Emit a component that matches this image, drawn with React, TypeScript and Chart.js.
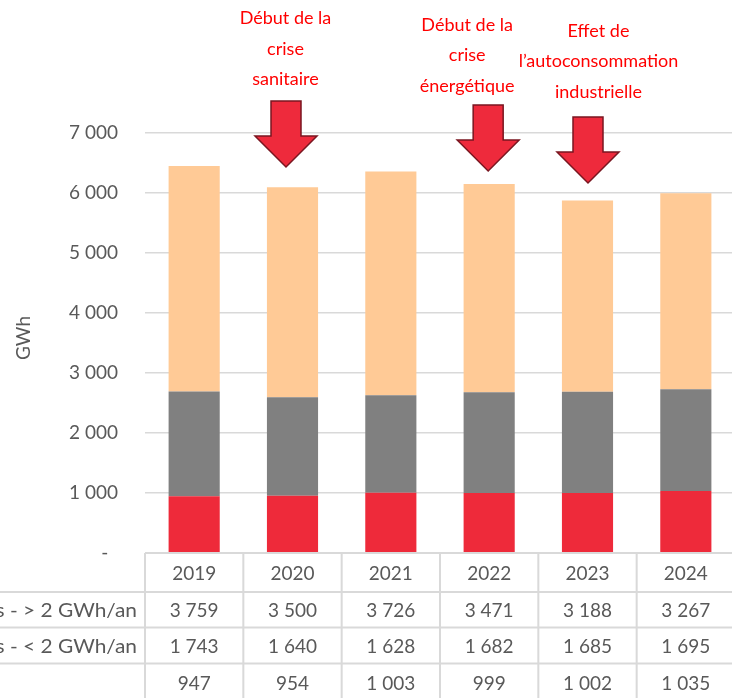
import React, { useEffect, useRef } from "react";
import { Chart, registerables } from "chart.js";

Chart.register(...registerables);

const categories = ["2019", "2020", "2021", "2022", "2023", "2024"];
const above2GWh = [3759, 3500, 3726, 3471, 3188, 3267];
const below2GWh = [1743, 1640, 1628, 1682, 1685, 1695];
const thirdSeries = [947, 954, 1003, 999, 1002, 1035];
const rowLabels = ["Industriels - > 2 GWh/an", "Industriels - < 2 GWh/an", ""];
const yMax = 7000;
const yStep = 1000;

const notes = [
  { index: 1, textDx: -7, arrowDx: -6.5, lines: ["Début de la", "crise", "sanitaire"], firstBaseline: 24, arrowTop: 101 },
  { index: 3, textDx: -22, arrowDx: -1, lines: ["Début de la", "crise", "énergétique"], firstBaseline: 30.5, arrowTop: 105 },
  { index: 4, textDx: 11, arrowDx: 0.5, lines: ["Effet de", "l\u2019autoconsommation", "industrielle"], firstBaseline: 36.5, arrowTop: 117 },
];

const FONT = "Lato, 'Open Sans', sans-serif";
const GRID = "#d9d9d9";
const TEXT = "#595959";

function fmt(n: number): string {
  if (n === 0) return "-  ";
  if (n >= 1000) {
    return `${Math.floor(n / 1000)} ${String(n % 1000).padStart(3, "0")}`;
  }
  return String(n);
}

const overlayPlugin = {
  id: "overlay",
  afterDraw(chart: any) {
    const ctx = chart.ctx;
    const xs = chart.scales.x;
    const area = chart.chartArea;
    const colW = (area.right - area.left) / categories.length;
    ctx.save();

    // Y title
    ctx.save();
    ctx.translate(24, 338);
    ctx.rotate(-Math.PI / 2);
    ctx.font = `19px ${FONT}`;
    ctx.fillStyle = TEXT;
    ctx.textAlign = "center";
    ctx.textBaseline = "middle";
    ctx.fillText("GWh", 0, 0);
    ctx.restore();

    // Table
    const rowLines = [area.bottom, 592, 627.5, 663.5, 702];
    ctx.strokeStyle = GRID;
    ctx.lineWidth = 2;
    ctx.beginPath();
    ctx.moveTo(area.left, area.bottom);
    ctx.lineTo(chart.width, area.bottom);
    for (let r = 1; r < 4; r++) {
      ctx.moveTo(0, rowLines[r]);
      ctx.lineTo(chart.width, rowLines[r]);
    }
    for (let i = 0; i <= categories.length; i++) {
      const x = area.left + i * colW;
      ctx.moveTo(x, area.bottom);
      ctx.lineTo(x, chart.height);
    }
    ctx.stroke();

    ctx.font = `19px ${FONT}`;
    ctx.fillStyle = TEXT;
    ctx.textBaseline = "middle";
    ctx.textAlign = "center";
    const rows = [above2GWh, below2GWh, thirdSeries];
    categories.forEach((c, i) => {
      const cx = xs.getPixelForValue(i);
      ctx.fillText(c, cx, (rowLines[0] + rowLines[1]) / 2 + 1);
      rows.forEach((vals, r) => {
        ctx.fillText(fmt(vals[i]), cx, (rowLines[r + 1] + rowLines[r + 2]) / 2 + 1);
      });
    });
    ctx.textAlign = "right";
    rowLabels.forEach((lab, r) => {
      ctx.save();
      ctx.translate(137, (rowLines[r + 1] + rowLines[r + 2]) / 2 + 1);
      ctx.scale(1.1, 1);
      ctx.fillText(lab, 0, 0);
      ctx.restore();
    });

    // Notes
    notes.forEach((n) => {
      const cx = xs.getPixelForValue(n.index);
      ctx.font = `18px ${FONT}`;
      ctx.fillStyle = "#ff0000";
      ctx.textAlign = "center";
      ctx.textBaseline = "alphabetic";
      n.lines.forEach((l, k) => {
        ctx.fillText(l, cx + n.textDx, n.firstBaseline + k * 30.5);
      });
      const ax = cx + n.arrowDx;
      const top = n.arrowTop;
      const headY = top + 35;
      const tip = top + 66;
      ctx.beginPath();
      ctx.moveTo(ax - 15, top);
      ctx.lineTo(ax + 15, top);
      ctx.lineTo(ax + 15, headY);
      ctx.lineTo(ax + 31, headY);
      ctx.lineTo(ax, tip);
      ctx.lineTo(ax - 31, headY);
      ctx.lineTo(ax - 15, headY);
      ctx.closePath();
      ctx.fillStyle = "#ee2a3c";
      ctx.fill();
      ctx.strokeStyle = "#7a1620";
      ctx.lineWidth = 1.5;
      ctx.stroke();
    });

    ctx.restore();
  },
};

export default function App() {
  const ref = useRef<HTMLCanvasElement>(null);
  useEffect(() => {
    if (!ref.current) return;
    const chart = new Chart(ref.current, {
      type: "bar",
      data: {
        labels: categories,
        datasets: [
          { label: "third", data: thirdSeries, backgroundColor: "#ee2a3a", stack: "s" },
          { label: "< 2 GWh/an", data: below2GWh, backgroundColor: "#808080", stack: "s" },
          { label: "> 2 GWh/an", data: above2GWh, backgroundColor: "#ffca96", stack: "s" },
        ],
      },
      options: {
        responsive: false,
        animation: false,
        devicePixelRatio: 1,
        layout: { padding: { left: 0, right: 5, top: 133, bottom: 145 } },
        datasets: { bar: { categoryPercentage: 1, barPercentage: 0.52 } },
        plugins: { legend: { display: false }, tooltip: { enabled: false } },
        scales: {
          x: { display: false, stacked: true },
          y: {
            stacked: true,
            min: 0,
            max: yMax,
            border: { display: false },
            grid: { color: GRID, lineWidth: 1.5, drawTicks: false },
            afterFit: (s: any) => {
              s.width = 145;
            },
            ticks: {
              stepSize: yStep,
              padding: 27,
              color: TEXT,
              font: { family: FONT, size: 19 },
              callback: (v: any) => fmt(Number(v)),
            },
          },
        },
      },
      plugins: [overlayPlugin],
    });
    return () => chart.destroy();
  }, []);
  return (
    <div style={{ position: "fixed", left: 0, top: 0, width: 732, height: 698, overflow: "hidden", background: "#fff" }}>
      <canvas ref={ref} width={740} height={698} style={{ display: "block" }} />
    </div>
  );
}
